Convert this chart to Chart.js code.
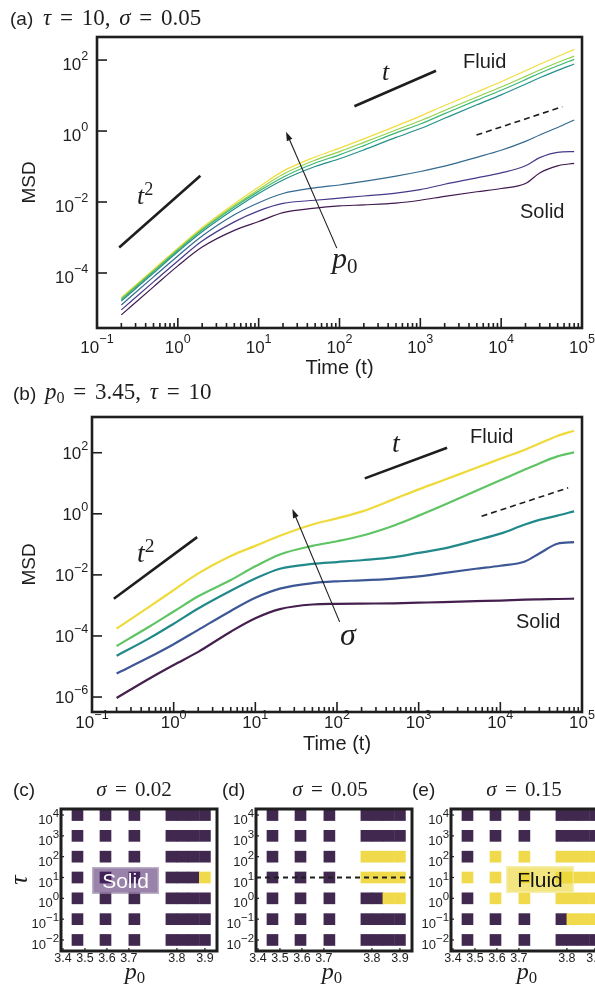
<!DOCTYPE html>
<html>
<head>
<meta charset="utf-8">
<title>MSD</title>
<script src="https://cdn.jsdelivr.net/npm/chart.js@4.4.1/dist/chart.umd.min.js"></script>
<style>
  html, body { margin: 0; padding: 0; background: #fff; overflow: hidden; }
  #fig { position: relative; width: 595px; height: 987px; overflow: hidden;
         font-family: "Liberation Sans", Arial, sans-serif; color: #1e1e1e; }
  .panel { position: absolute; }
  .txt { position: absolute; white-space: nowrap; line-height: 1; }
  .serif { font-family: "Liberation Serif", "DejaVu Serif", serif; }
  .txt sup { font-size: 0.74em; position: relative; top: -0.75em; vertical-align: baseline; line-height: 0; }
  .hm sup { font-size: 0.88em; top: -0.62em; }
  .math sup { font-size: 0.7em; top: -0.5em; font-style: normal; }
  .math sub { font-size: 0.7em; position: relative; top: 0.25em; vertical-align: baseline; line-height: 0; font-style: normal; }
  .wide { word-spacing: 3px; }
  .tag { position: absolute; text-align: center; font-size: 21px; line-height: 27px; }
</style>
</head>
<body>
<div id="fig">
  <div class="panel" style="left:0;top:0;width:595px;height:380px"><canvas id="chartA"></canvas></div>
  <div class="panel" style="left:0;top:380px;width:595px;height:380px"><canvas id="chartB"></canvas></div>
  <div class="panel" style="left:0;top:760px;width:230px;height:227px"><canvas id="chartC"></canvas></div>
  <div class="panel" style="left:200px;top:760px;width:230px;height:227px"><canvas id="chartD"></canvas></div>
  <div class="panel" style="left:395px;top:760px;width:230px;height:227px"><canvas id="chartE"></canvas></div>
</div>
<script>
// sampling times shared by every MSD curve
const times = [0.2, 0.5, 1, 2, 5, 10, 20, 50, 100, 200, 500, 1000, 2000, 5000, 1e4, 2e4, 3e4, 5e4, 8e4];

// (a) tau = 10, sigma = 0.05 : log10(MSD), lowest p0 first
const logA1 = [-5.18, -4.39, -3.80, -3.27, -2.80, -2.55, -2.30, -2.17, -2.11, -2.08, -2.03, -1.95, -1.84, -1.71, -1.62, -1.48, -1.18, -0.98, -0.91];
const logA2 = [-5.04, -4.25, -3.66, -3.10, -2.56, -2.25, -2.04, -1.95, -1.89, -1.83, -1.75, -1.65, -1.50, -1.32, -1.18, -0.98, -0.75, -0.60, -0.58];
const logA3 = [-4.90, -4.11, -3.52, -2.96, -2.36, -2.02, -1.76, -1.60, -1.52, -1.42, -1.27, -1.14, -0.99, -0.74, -0.54, -0.29, -0.11, 0.10, 0.31];
const logA4 = [-4.79, -4.00, -3.40, -2.84, -2.20, -1.76, -1.38, -1.00, -0.78, -0.53, -0.18, 0.07, 0.36, 0.74, 1.02, 1.32, 1.50, 1.71, 1.89];
const logA5 = [-4.75, -3.96, -3.36, -2.79, -2.14, -1.70, -1.30, -0.90, -0.67, -0.41, -0.05, 0.20, 0.49, 0.87, 1.15, 1.45, 1.63, 1.84, 2.02];
const logA6 = [-4.72, -3.93, -3.33, -2.76, -2.10, -1.65, -1.22, -0.82, -0.58, -0.32, 0.03, 0.29, 0.58, 0.96, 1.24, 1.54, 1.72, 1.93, 2.11];
const logA7 = [-4.69, -3.90, -3.30, -2.72, -2.05, -1.58, -1.13, -0.73, -0.48, -0.22, 0.14, 0.42, 0.72, 1.10, 1.39, 1.70, 1.88, 2.10, 2.30];

// (b) p0 = 3.45, tau = 10 : log10(MSD), lowest sigma first
const logB1 = [-6.03, -5.40, -4.95, -4.52, -3.86, -3.42, -3.12, -2.97, -2.95, -2.94, -2.93, -2.91, -2.89, -2.86, -2.84, -2.81, -2.80, -2.79, -2.78];
const logB2 = [-5.23, -4.70, -4.27, -3.80, -3.18, -2.75, -2.45, -2.27, -2.21, -2.18, -2.12, -2.05, -1.94, -1.80, -1.70, -1.56, -1.30, -0.98, -0.93];
const logB3 = [-4.65, -4.08, -3.60, -3.10, -2.52, -2.12, -1.80, -1.64, -1.58, -1.52, -1.42, -1.28, -1.14, -0.87, -0.65, -0.35, -0.20, -0.06, 0.08];
const logB4 = [-4.33, -3.70, -3.20, -2.70, -2.17, -1.72, -1.33, -1.05, -0.90, -0.72, -0.38, -0.06, 0.28, 0.75, 1.10, 1.45, 1.65, 1.88, 2.01];
const logB5 = [-3.76, -3.05, -2.50, -1.95, -1.38, -1.05, -0.72, -0.35, -0.15, 0.07, 0.48, 0.80, 1.10, 1.50, 1.80, 2.10, 2.30, 2.55, 2.72];

// power-law guides: [t0, t1] and [log10 MSD0, log10 MSD1]
const guideA = {
  t2:   { t: [0.188, 1.9],    m: [-3.28, -1.26] },
  t1:   { t: [153, 1563],     m: [0.70, 1.70] },
  dash: { t: [4950, 57100],   m: [-0.113, 0.685] }
};
const guideB = {
  t2:   { t: [0.185, 1.94],   m: [-2.78, -0.765] },
  t1:   { t: [219, 2230],     m: [1.16, 2.16] },
  dash: { t: [5890, 67700],   m: [-0.08, 0.85] }
};
// arrows (time, log10 MSD), tail then head
const arrowA = { from: [92.7, -3.30], to: [21.8, -0.02] };
const arrowB = { from: [107.7, -3.54], to: [28.4, 0.16] };

// phase diagrams: rows tau = 10^4 ... 10^-2, columns by p0; 1 = fluid, 0 = solid
const tauExp = [4, 3, 2, 1, 0, -1, -2];
const p0Slots = [1.5, 4.05, 6.68, 10.05, 11.05, 12.05, 13.1];
const p0TickLabels = ['3.4', '3.5', '3.6', '3.7', '3.8', '3.9'];
const p0TickSlots = [0.18, 2.18, 4.18, 6.18, 10.55, 13.1];
const phaseC = [
  [0, 0, 0, 0, 0, 0, 0],
  [0, 0, 0, 0, 0, 0, 0],
  [0, 0, 0, 0, 0, 0, 0],
  [0, 0, 0, 0, 0, 0, 1],
  [0, 0, 0, 0, 0, 0, 0],
  [0, 0, 0, 0, 0, 0, 0],
  [0, 0, 0, 0, 0, 0, 0]
];
const phaseD = [
  [0, 0, 0, 0, 0, 0, 0],
  [0, 0, 0, 0, 0, 0, 0],
  [0, 0, 0, 1, 1, 1, 1],
  [0, 0, 0, 1, 1, 1, 1],
  [0, 0, 0, 0, 0, 1, 1],
  [0, 0, 0, 0, 0, 0, 0],
  [0, 0, 0, 0, 0, 0, 0]
];
const phaseE = [
  [0, 0, 0, 0, 0, 0, 0],
  [0, 0, 0, 0, 0, 0, 0],
  [0, 1, 1, 1, 1, 1, 1],
  [1, 1, 1, 1, 1, 1, 1],
  [0, 1, 1, 1, 1, 1, 1],
  [0, 0, 0, 0, 1, 1, 1],
  [0, 0, 0, 0, 0, 0, 0]
];

const colorsA = ['#40194f', '#46398a', '#33698e', '#23908b', '#3cb675', '#93d24a', '#f0dd3c'];
const colorsB = ['#45204f', '#3d5796', '#22898b', '#5ec464', '#eedb3b'];
const DARK = '#41284f', YEL = '#f0da4b', INK = '#1e1e1e';

Chart.defaults.font.family = '"Liberation Sans", Arial, sans-serif';
Chart.defaults.color = INK;

const decades = (lo, hi) => { const a = []; for (let e = lo; e <= hi; e++) a.push(Math.pow(10, e)); return a; };
const minors = (lo, hi) => { const a = []; for (let e = lo; e < hi; e++) for (let m = 2; m <= 9; m++) a.push(m * Math.pow(10, e)); return a; };

// inward ticks, frame and arrow
const framePlugin = {
  id: 'frame',
  afterDatasetsDraw(chart, args, o) {
    const { ctx, chartArea: a, scales: { x, y } } = chart;
    ctx.save();
    ctx.strokeStyle = INK;
    ctx.fillStyle = INK;
    const seg = (x1, y1, x2, y2) => { ctx.beginPath(); ctx.moveTo(x1, y1); ctx.lineTo(x2, y2); ctx.stroke(); };
    ctx.lineWidth = o.tickWidth || 1.6;
    (o.xMajor || []).forEach(v => { const p = x.getPixelForValue(v); seg(p, a.bottom, p, a.bottom - o.majorLen); });
    (o.xMinor || []).forEach(v => { const p = x.getPixelForValue(v); seg(p, a.bottom, p, a.bottom - o.minorLen); });
    (o.yMajor || []).forEach(v => { const p = y.getPixelForValue(v); seg(a.left, p, a.left + o.majorLen, p); });
    if (o.arrow) {
      const x1 = x.getPixelForValue(o.arrow.from[0]), y1 = y.getPixelForValue(Math.pow(10, o.arrow.from[1]));
      const x2 = x.getPixelForValue(o.arrow.to[0]), y2 = y.getPixelForValue(Math.pow(10, o.arrow.to[1]));
      const ang = Math.atan2(y2 - y1, x2 - x1);
      ctx.lineWidth = 1.1;
      seg(x1, y1, x2 - 6 * Math.cos(ang), y2 - 6 * Math.sin(ang));
      ctx.beginPath();
      ctx.moveTo(x2, y2);
      ctx.lineTo(x2 - 9 * Math.cos(ang) + 3 * Math.sin(ang), y2 - 9 * Math.sin(ang) - 3 * Math.cos(ang));
      ctx.lineTo(x2 - 9 * Math.cos(ang) - 3 * Math.sin(ang), y2 - 9 * Math.sin(ang) + 3 * Math.cos(ang));
      ctx.closePath();
      ctx.fill();
    }
    ctx.lineWidth = o.borderWidth || 2.6;
    ctx.strokeRect(a.left, a.top, a.right - a.left, a.bottom - a.top);
    ctx.restore();
  }
};
Chart.register(framePlugin);

const fig = document.getElementById('fig');
function put(html, x, base, size, opts = {}) {
  const d = document.createElement('div');
  const cls = opts.cls || '';
  d.className = 'txt ' + cls;
  d.innerHTML = html;
  const k = cls.includes('serif') ? 0.8375 : 0.8465;
  d.style.fontSize = size + 'px';
  d.style.left = x + 'px';
  d.style.top = (base - k * size) + 'px';
  if (opts.align === 'c') d.style.transform = 'translateX(-50%)';
  if (opts.align === 'r') d.style.transform = 'translateX(-100%)';
  fig.appendChild(d);
  return d;
}
const pow10 = e => '10<sup>' + (e < 0 ? '\u2212' + (-e) : e) + '</sup>';

function curveSets(logs, colors, width) {
  return logs.map((v, i) => ({
    label: 'curve ' + (i + 1),
    data: times.map((t, k) => ({ x: t, y: Math.pow(10, v[k]) })),
    borderColor: colors[i], borderWidth: width, pointRadius: 0,
    cubicInterpolationMode: 'monotone', fill: false
  }));
}
function guideSets(g) {
  return ['t2', 't1', 'dash'].map(key => ({
    label: 'guide ' + key,
    data: g[key].t.map((t, k) => ({ x: t, y: Math.pow(10, g[key].m[k]) })),
    borderColor: INK, borderWidth: key === 'dash' ? 1.6 : 2.6,
    borderDash: key === 'dash' ? [6, 4] : [], pointRadius: 0, tension: 0
  }));
}

function msdChart(id, cfg) {
  return new Chart(document.getElementById(id), {
    type: 'line',
    data: { datasets: cfg.datasets },
    options: {
      animation: false, responsive: true, maintainAspectRatio: false, events: [],
      layout: { padding: cfg.pad },
      plugins: {
        legend: { display: false }, tooltip: { enabled: false },
        frame: { xMajor: decades(-1, 5), xMinor: minors(-1, 5), yMajor: cfg.yMajor,
                 majorLen: 10, minorLen: 5, tickWidth: 1.6, borderWidth: 2.6, arrow: cfg.arrow }
      },
      scales: {
        x: {
          type: 'logarithmic', min: 0.1, max: 1e5,
          grid: { display: false }, border: { display: false }, ticks: { display: false },
          title: { display: true, text: 'Time (t)', font: { size: 20 }, padding: { top: 0, bottom: cfg.xTitlePad } },
          afterFit: s => { s.height = cfg.xH; }
        },
        y: {
          type: 'logarithmic', min: cfg.yMin, max: cfg.yMax,
          grid: { display: false }, border: { display: false }, ticks: { display: false },
          title: { display: true, text: 'MSD', font: { size: 19 }, padding: { top: cfg.yTitlePad, bottom: 0 } },
          afterFit: s => { s.width = cfg.yW; }
        }
      }
    }
  });
}

function msdTicks(chart, ox, oy, yExps, o) {
  const a = chart.chartArea;
  for (let e = -1; e <= 5; e++) {
    put(pow10(e), ox + chart.scales.x.getPixelForValue(Math.pow(10, e)), oy + a.bottom + o.xBase, 17, { align: 'c' });
  }
  yExps.forEach(e => {
    put(pow10(e), ox + 88.3, oy + chart.scales.y.getPixelForValue(Math.pow(10, e)) + o.dy + 0.358 * 17, 17, { align: 'r' });
  });
}

// (a)
const chartA = msdChart('chartA', {
  datasets: guideSets(guideA).concat(curveSets([logA1, logA2, logA3, logA4, logA5, logA6, logA7], colorsA, 1.2)),
  pad: { left: 0, top: 37, right: 13, bottom: 0 },
  xH: 52, yW: 97, xTitlePad: 0, yTitlePad: 18.6,
  yMin: Math.pow(10, -5.55), yMax: Math.pow(10, 2.65),
  yMajor: [1e-4, 1e-2, 1, 100], arrow: arrowA
});
msdTicks(chartA, 0, 0, [2, 0, -2, -4], { xBase: 25, dy: 4 });

// (b)
const chartB = msdChart('chartB', {
  datasets: guideSets(guideB).concat(curveSets([logB1, logB2, logB3, logB4, logB5], colorsB, 2.2)),
  pad: { left: 0, top: 37, right: 13, bottom: 0 },
  xH: 48, yW: 92, xTitlePad: 3.6, yTitlePad: 18,
  yMin: Math.pow(10, -6.49), yMax: Math.pow(10, 3.17),
  yMajor: [1e-6, 1e-4, 1e-2, 1, 100], arrow: arrowB
});
msdTicks(chartB, 0, 380, [2, 0, -2, -4, -6], { xBase: 16.6, dy: 0.6 });

// phase diagrams
function cells(grid) {
  const out = [];
  grid.forEach((row, i) => row.forEach((v, j) => {
    out.push({ x: p0Slots[j], y: [tauExp[i] - 0.265, tauExp[i] + 0.265], v });
  }));
  return out;
}
function phaseChart(id, grid, cfg) {
  const datasets = [{
    type: 'bar', label: 'phase', data: cells(grid), barThickness: 11, borderWidth: 0,
    backgroundColor: c => (c.raw && c.raw.v) ? YEL : DARK
  }];
  if (cfg.dashTau !== undefined) {
    datasets.push({
      type: 'line', label: 'tau', order: -1,
      data: [{ x: 0, y: cfg.dashTau }, { x: 14.2, y: cfg.dashTau }],
      borderColor: INK, borderWidth: 2, borderDash: [5, 4], pointRadius: 0
    });
  }
  return new Chart(document.getElementById(id), {
    type: 'bar',
    data: { datasets },
    options: {
      animation: false, responsive: true, maintainAspectRatio: false, events: [],
      layout: { padding: { left: 0, top: 49, right: cfg.pr, bottom: 0 } },
      plugins: {
        legend: { display: false }, tooltip: { enabled: false },
        frame: { xMajor: p0TickSlots, yMajor: tauExp, majorLen: 3, tickWidth: 1.2, borderWidth: 3 }
      },
      scales: {
        x: {
          type: 'linear', min: 0, max: 14.2, offset: false,
          grid: { display: false }, border: { display: false }, ticks: { display: false },
          afterFit: s => { s.height = 36; }
        },
        y: {
          type: 'linear', min: -2.53, max: 4.29,
          grid: { display: false }, border: { display: false }, ticks: { display: false },
          title: { display: cfg.yTitle, text: '\u03c4', font: { size: 26, style: 'italic', family: '"Liberation Serif", serif' },
                   padding: { top: 4.4, bottom: 0 } },
          afterFit: s => { s.width = cfg.yW; }
        }
      }
    }
  });
}
function phaseTicks(chart, ox, oy) {
  const a = chart.chartArea;
  tauExp.forEach(e => {
    put(pow10(e), ox + a.left - 2, oy + chart.scales.y.getPixelForValue(e) + 4.5 + 0.358 * 13, 13, { align: 'r', cls: 'hm' });
  });
  p0TickLabels.forEach((s, i) => {
    put(s, ox + chart.scales.x.getPixelForValue(p0TickSlots[i]), 963, 12.5, { align: 'c', cls: 'hm' });
  });
}
const chartC = phaseChart('chartC', phaseC, { pr: 13, yW: 61, yTitle: true });
const chartD = phaseChart('chartD', phaseD, { pr: 18, yW: 56, yTitle: false, dashTau: 1 });
const chartE = phaseChart('chartE', phaseE, { pr: 18, yW: 56, yTitle: false });
phaseTicks(chartC, 0, 760);
phaseTicks(chartD, 200, 760);
phaseTicks(chartE, 395, 760);

// titles and annotations
put('(a)', 10, 25, 19);
put('<i>\u03c4</i> = 10, <i>\u03c3</i> = 0.05', 43, 25, 23, { cls: 'serif math wide' });
put('(b)', 13, 400, 19);
put('<i>p</i><sub>0</sub> = 3.45, <i>\u03c4</i> = 10', 45, 399, 23, { cls: 'serif math wide' });
put('(c)', 13, 796, 19);
put('(d)', 222, 796, 19);
put('(e)', 412, 796, 19);
put('<i>\u03c3</i> = 0.02', 134, 797, 21, { cls: 'serif math wide', align: 'c' });
put('<i>\u03c3</i> = 0.05', 330, 797, 21, { cls: 'serif math wide', align: 'c' });
put('<i>\u03c3</i> = 0.15', 524, 797, 21, { cls: 'serif math wide', align: 'c' });

put('Fluid', 463, 68, 20);
put('Solid', 520, 218, 20);
put('<i>t</i>', 382, 81, 26, { cls: 'serif math' });
put('<i>t</i><sup>2</sup>', 137, 205, 26, { cls: 'serif math' });
put('<i>p</i><sub>0</sub>', 332, 268, 30, { cls: 'serif math' });

put('Fluid', 470, 443, 20);
put('Solid', 516, 628, 20);
put('<i>t</i>', 392, 452, 28, { cls: 'serif math' });
put('<i>t</i><sup>2</sup>', 137, 562, 28, { cls: 'serif math' });
put('<i>\u03c3</i>', 340, 645, 32, { cls: 'serif math' });

put('<i>p</i><sub>0</sub>', 135, 979, 24, { cls: 'serif math', align: 'c' });
put('<i>p</i><sub>0</sub>', 332, 979, 24, { cls: 'serif math', align: 'c' });
put('<i>p</i><sub>0</sub>', 527, 979, 24, { cls: 'serif math', align: 'c' });

function tag(text, x, y, w, h, bg, fg) {
  const d = document.createElement('div');
  d.className = 'tag';
  d.textContent = text;
  Object.assign(d.style, { left: x + 'px', top: y + 'px', width: w + 'px', height: h + 'px',
    background: bg, color: fg, boxShadow: 'inset 0 0 0 1.5px rgba(255,255,255,0.35)' });
  fig.appendChild(d);
}
tag('Solid', 92, 867, 67, 27, 'rgba(70,30,100,0.55)', '#fff');
tag('Fluid', 506, 866, 68, 27, 'rgba(236,214,50,0.62)', '#111');
</script>
</body>
</html>
